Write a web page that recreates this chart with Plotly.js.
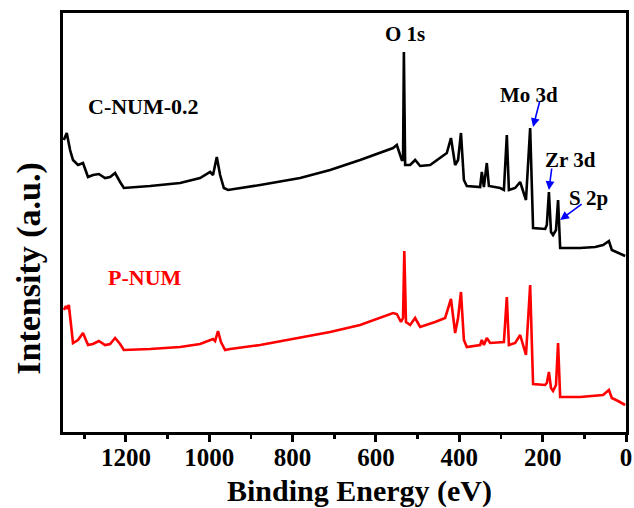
<!DOCTYPE html>
<html>
<head>
<meta charset="utf-8">
<script src="https://cdn.plot.ly/plotly-3.0.1.min.js"></script>
<style>html,body{margin:0;padding:0;background:#fff;}#chart{width:634px;height:508px;}</style>
</head>
<body>
<div id="chart"></div>
<script>
// Binding energy (eV) and intensity (a.u.)
const cnumEnergy = [1349,1342,1334,1327,1315,1303,1291,1279,1265,1250,1238,1226,1214,1205,1142,1070,1022,998,991,982,974,965,955,878,782,710,638,559,550,538,535,533,530,518,506,494,470,446,430,420,410,403,396,389,382,350,346,341,334,329,302,293,286,281,266,254,247,240,230,223,194,190,185,180,175,168,163,158,110,74,55,41,34,19,2];
const cnumIntensity = [292,299,282,272,267,269,255,257,258,254,255,259,250,244,246,249,254,260,257,275,257,244,242,247,254,262,272,284,287,272,272,380,267,267,272,266,267,274,279,294,267,272,299,252,246,245,260,245,269,246,244,242,297,242,244,250,242,232,304,204,203,207,240,200,197,202,232,184,184,185,187,191,182,179,176];

const pnumEnergy = [1349,1344,1341,1337,1327,1315,1303,1291,1279,1265,1250,1238,1226,1214,1205,1142,1070,1022,991,986,979,972,962,950,878,782,710,638,559,550,540,535,532,528,518,506,494,458,434,420,410,403,396,389,382,350,346,341,334,326,293,286,281,266,254,247,240,230,223,194,190,185,180,175,168,163,158,110,74,55,41,34,19,2];
const pnumIntensity = [122,126,123,127,89,92,99,87,88,91,87,88,94,88,82,83,85,88,93,91,101,90,82,83,87,94,100,107,119,118,110,114,181,110,107,114,105,110,114,133,99,114,140,92,85,87,92,87,94,89,90,135,87,89,97,87,77,147,48,47,49,60,44,41,47,89,35,35,36,37,42,34,31,27];

const seriesNames = ['C-NUM-0.2', 'P-NUM'];
const peakLabels = ['O 1s', 'Mo 3d', 'Zr 3d', 'S 2p'];
const xTickVals = [1200, 1000, 800, 600, 400, 200, 0];
const xTickText = ['1200', '1000', '800', '600', '400', '200', '0'];
const xTitle = 'Binding Energy (eV)';
const yTitle = 'Intensity (a.u.)';

const F = 'Liberation Serif, Times New Roman, serif';
const font = (size, color) => ({family: F, size: size, color: color || '#000', weight: 'bold'});

const traces = [
  {x: cnumEnergy, y: cnumIntensity, name: seriesNames[0], type: 'scatter', mode: 'lines',
   line: {color: '#000000', width: 2.6}},
  {x: pnumEnergy, y: pnumIntensity, name: seriesNames[1], type: 'scatter', mode: 'lines',
   line: {color: '#ff0000', width: 2.6}}
];

const txt = (t, x, y, c, s) => ({text: t, x: x, y: y, xref: 'x', yref: 'y', showarrow: false,
  font: font(s || 21, c), xanchor: 'center', yanchor: 'middle'});
const arr = (x, y, ax, ay) => ({text: '', x: x, y: y, xref: 'x', yref: 'y', ax: ax, ay: ay,
  showarrow: true, arrowcolor: '#0000ff', arrowwidth: 1.6, arrowhead: 2, arrowsize: 1.1});

const layout = {
  width: 634, height: 508,
  margin: {l: 63, r: 8, t: 13, b: 76, pad: 0},
  paper_bgcolor: '#fff', plot_bgcolor: '#fff',
  showlegend: false,
  xaxis: {
    range: [1351, 0], showgrid: false, zeroline: false,
    showline: true, linewidth: 3, linecolor: '#000', mirror: true,
    ticks: 'outside', ticklen: 7, tickwidth: 3, tickcolor: '#000',
    tickvals: xTickVals, ticktext: xTickText,
    tickfont: font(25), ticklabelstandoff: -6,
    minor: {dtick: 100, tick0: 0, ticks: 'outside', ticklen: 4, tickwidth: 2.5, tickcolor: '#000', showgrid: false}
  },
  yaxis: {
    range: [0, 419], showgrid: false, zeroline: false,
    showline: true, linewidth: 3, linecolor: '#000', mirror: true,
    showticklabels: false, ticks: ''
  },
  annotations: [
    txt(seriesNames[0], 1158, 326, '#000', 22),
    txt(seriesNames[1], 1154, 155, '#ff0000', 22),
    txt(peakLabels[0], 530, 398),
    txt(peakLabels[1], 233, 337),
    txt(peakLabels[2], 134, 272),
    txt(peakLabels[3], 91, 234),
    arr(223, 305, 7, -27),
    arr(185, 242, 3, -23),
    arr(158, 212, 23, -17),
    {text: xTitle, xref: 'paper', yref: 'paper', x: 0.5275, y: -0.14, showarrow: false,
     xanchor: 'center', yanchor: 'middle', font: font(30)},
    {text: yTitle, xref: 'paper', yref: 'paper', x: -0.062, y: 0.39, showarrow: false,
     xanchor: 'center', yanchor: 'middle', textangle: -90, font: font(34)}
  ]
};

Plotly.newPlot('chart', traces, layout, {displayModeBar: false, staticPlot: true});
</script>
</body>
</html>
